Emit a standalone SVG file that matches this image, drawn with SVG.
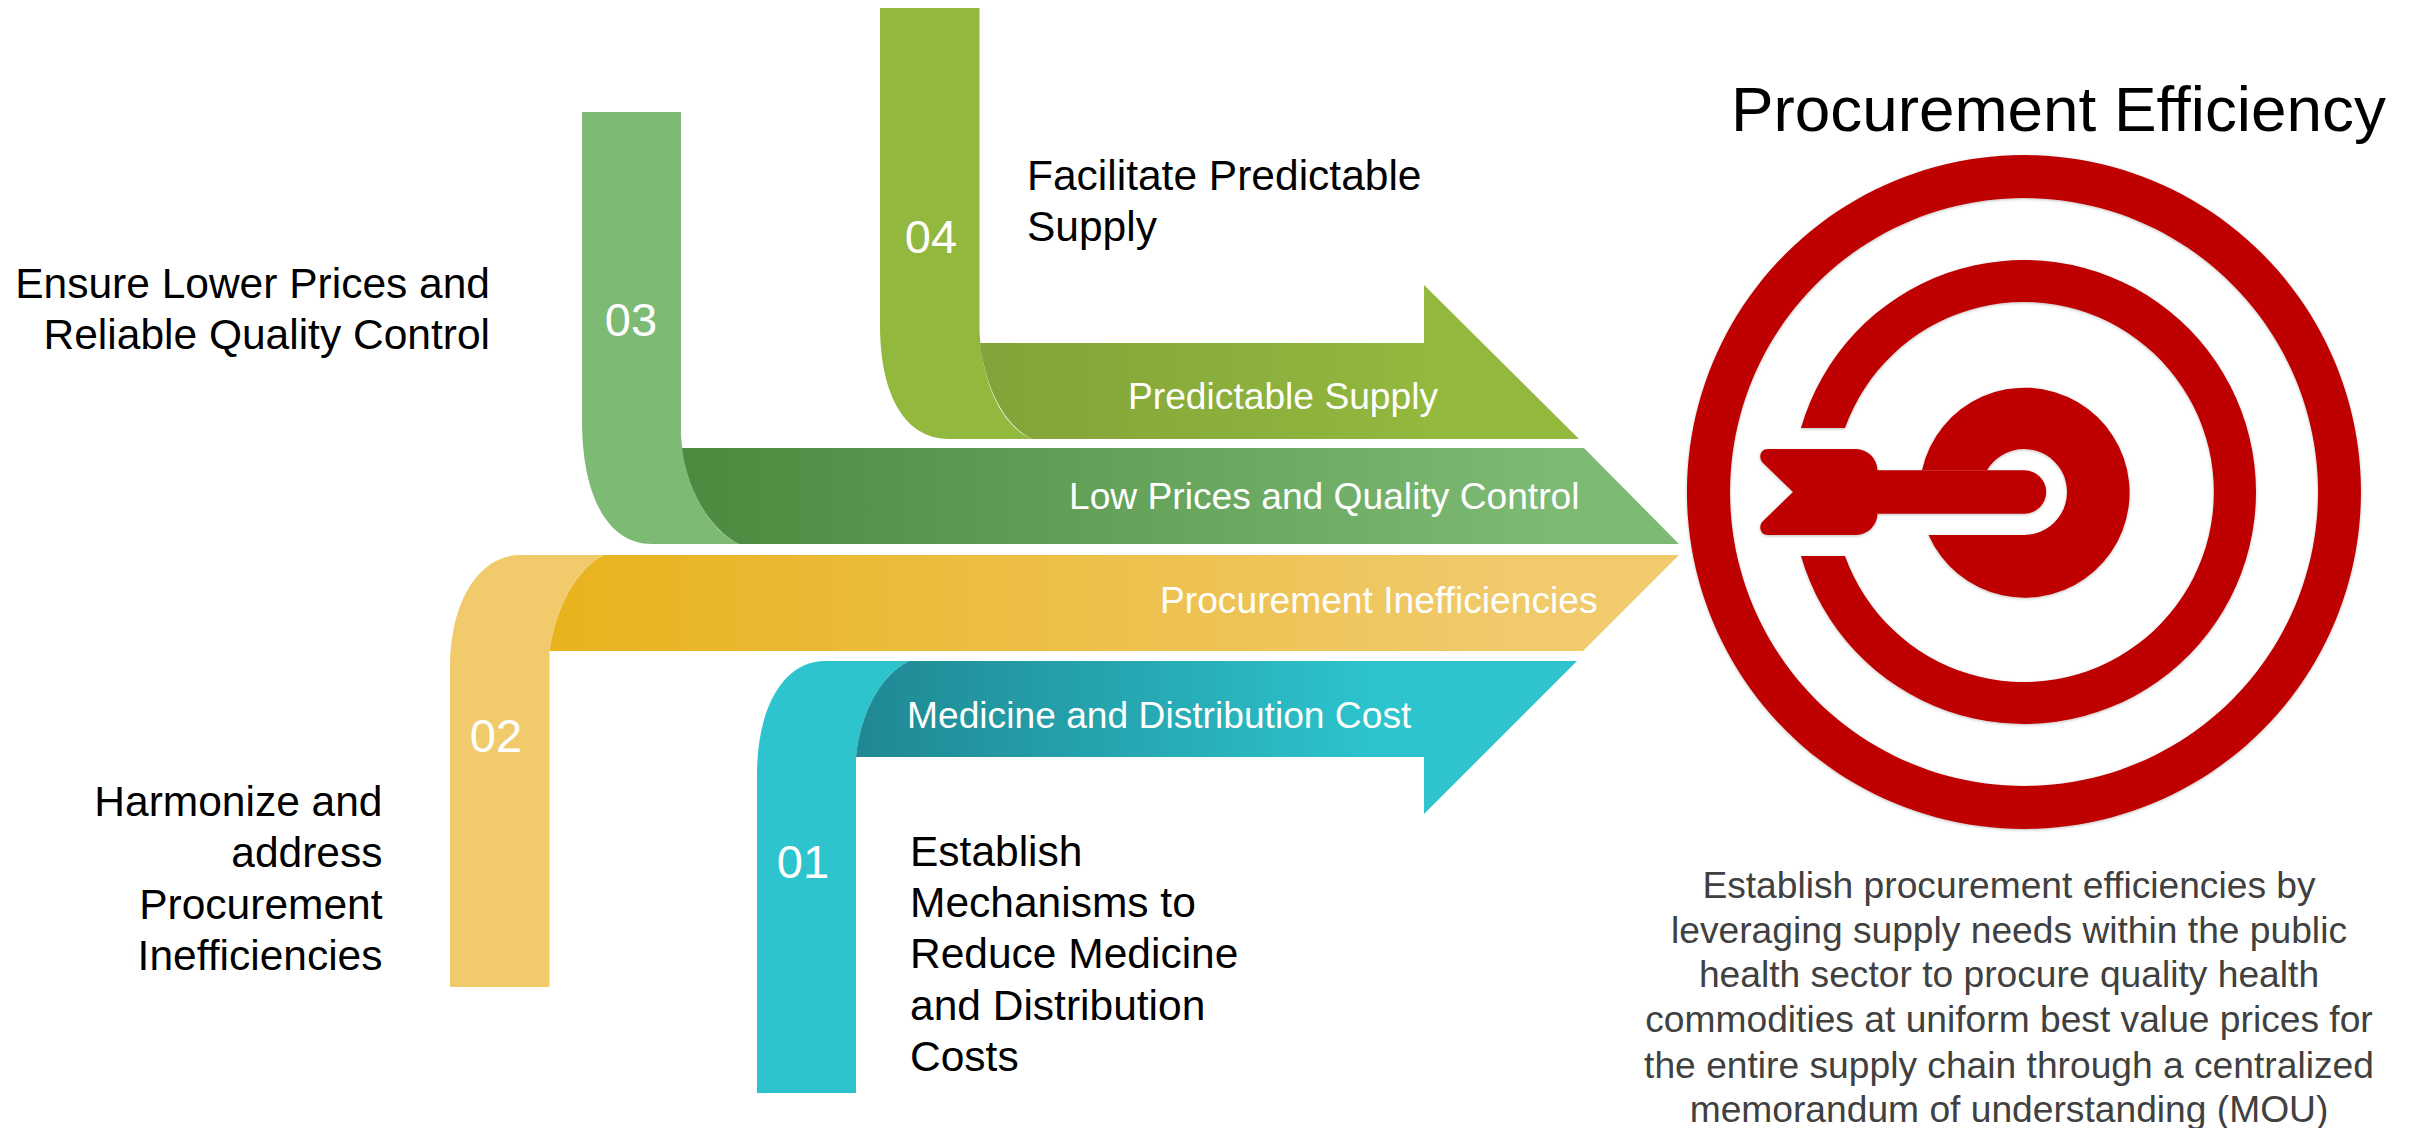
<svg xmlns="http://www.w3.org/2000/svg" width="2415" height="1128" viewBox="0 0 2415 1128">
<style>
text{font-family:"Liberation Sans",Arial,sans-serif}
.h{font-size:42.5px;fill:#000}
.r{text-anchor:end}
.b{font-size:37.2px;fill:#fff}
.n{font-size:47px;fill:#fff;text-anchor:middle}
.d{font-size:37.2px;fill:#404040;text-anchor:middle}
.t{font-size:63.8px;fill:#000}
.red{fill:#be0000}
</style>
<defs>
<linearGradient id="g4" gradientUnits="userSpaceOnUse" x1="980" y1="0" x2="1424" y2="0"><stop offset="0" stop-color="#82a339"/><stop offset="1" stop-color="#92b83e"/></linearGradient>
<linearGradient id="g3" gradientUnits="userSpaceOnUse" x1="690" y1="0" x2="1560" y2="0"><stop offset="0" stop-color="#4c8a40"/><stop offset="1" stop-color="#7dbb75"/></linearGradient>
<linearGradient id="g2" gradientUnits="userSpaceOnUse" x1="560" y1="0" x2="1500" y2="0"><stop offset="0" stop-color="#e9b31f"/><stop offset="1" stop-color="#f0ca6b"/></linearGradient>
<linearGradient id="g1" gradientUnits="userSpaceOnUse" x1="860" y1="0" x2="1380" y2="0"><stop offset="0" stop-color="#1f8893"/><stop offset="1" stop-color="#2dc4cd"/></linearGradient>
<filter id="sh" x="-5%" y="-5%" width="110%" height="110%"><feDropShadow dx="0" dy="1" stdDeviation="1.5" flood-color="#000" flood-opacity="0.25"/></filter>
</defs>

<g id="connectors"></g>

<g id="arrow-04">
<path fill="#92b83e" d="M880,8H979.5V331C982,380 1000,425 1032,439H949C905,439 880,395 880,325Z"/>
<path fill="url(#g4)" d="M980,343H1424V285L1579,439H1032C1003,425 985,385 980,343Z"/>
<text class="n" x="931" y="253">04</text>
<text class="b" x="1128" y="409">Predictable Supply</text>
<text class="h" x="1027" y="190">Facilitate Predictable</text>
<text class="h" x="1027" y="241">Supply</text>
</g>

<g id="arrow-03">
<path fill="#7dbb75" d="M582,112H681V435C684,485 708,530 739,544H652C607,544 582,495 582,420Z"/>
<path fill="url(#g3)" d="M682,448H1584L1679,544H739C710,530 687,490 682,448Z"/>
<text class="n" x="631" y="336">03</text>
<text class="b" x="1069" y="509">Low Prices and Quality Control</text>
<text class="h r" x="490" y="298">Ensure Lower Prices and</text>
<text class="h r" x="490" y="349">Reliable Quality Control</text>
</g>

<g id="arrow-02">
<path fill="#f0ca6b" d="M450,987V668C450,600 480,555 520,555H604C575,570 555,610 549.5,651V987Z"/>
<path fill="url(#g2)" d="M549.5,651C555,610 575,570 604,555H1679L1583,651Z"/>
<text class="n" x="496" y="752">02</text>
<text class="b" x="1160" y="613">Procurement Inefficiencies</text>
<text class="h r" x="382.5" y="816">Harmonize and</text>
<text class="h r" x="382.5" y="867">address</text>
<text class="h r" x="382.5" y="919">Procurement</text>
<text class="h r" x="382.5" y="970">Inefficiencies</text>
</g>

<g id="arrow-01">
<path fill="#2dc4cd" d="M757,1093V775C757,705 785,661 825,661H909C880,675 860,715 856,757V1093Z"/>
<path fill="url(#g1)" d="M856,757C860,715 880,675 909,661H1577L1424,814V757Z"/>
<text class="n" x="803" y="878">01</text>
<text class="b" x="907" y="728">Medicine and Distribution Cost</text>
<text class="h" x="910" y="866">Establish</text>
<text class="h" x="910" y="917">Mechanisms to</text>
<text class="h" x="910" y="968">Reduce Medicine</text>
<text class="h" x="910" y="1020">and Distribution</text>
<text class="h" x="910" y="1071">Costs</text>
</g>

<g id="target">
<g filter="url(#sh)" transform="translate(0,-5)">
<path class="red" fill-rule="evenodd" d="M2024,160A337,337 0 1 1 2023.9,160ZM2024,203A294,294 0 1 0 2024.1,203Z"/>
<path class="red" d="M1801,433A232,232 0 1 1 1801,561H1845A190,190 0 1 0 1845,433Z"/>
<path class="red" d="M1922,475.3A105,105 0 1 1 1928.5,540H2024A43,43 0 1 0 1986.9,475.3Z"/>
<path class="red" d="M1768,454H1856A21.7,21.7 0 0 1 1877.5,475.3H2024.5A21.7,21.7 0 0 1 2024.5,518.7H1877.5A21.7,21.7 0 0 1 1856,540H1768C1760,540 1758,531 1763,526L1793,497L1763,468C1758,463 1760,454 1768,454Z"/>
</g>
<text class="t" x="1731" y="131">Procurement Efficiency</text>
<text class="d" x="2009" y="898">Establish procurement efficiencies by</text>
<text class="d" x="2009" y="943">leveraging supply needs within the public</text>
<text class="d" x="2009" y="987">health sector to procure quality health</text>
<text class="d" x="2009" y="1032">commodities at uniform best value prices for</text>
<text class="d" x="2009" y="1078">the entire supply chain through a centralized</text>
<text class="d" x="2009" y="1122">memorandum of understanding (MOU)</text>
</g>
</svg>
